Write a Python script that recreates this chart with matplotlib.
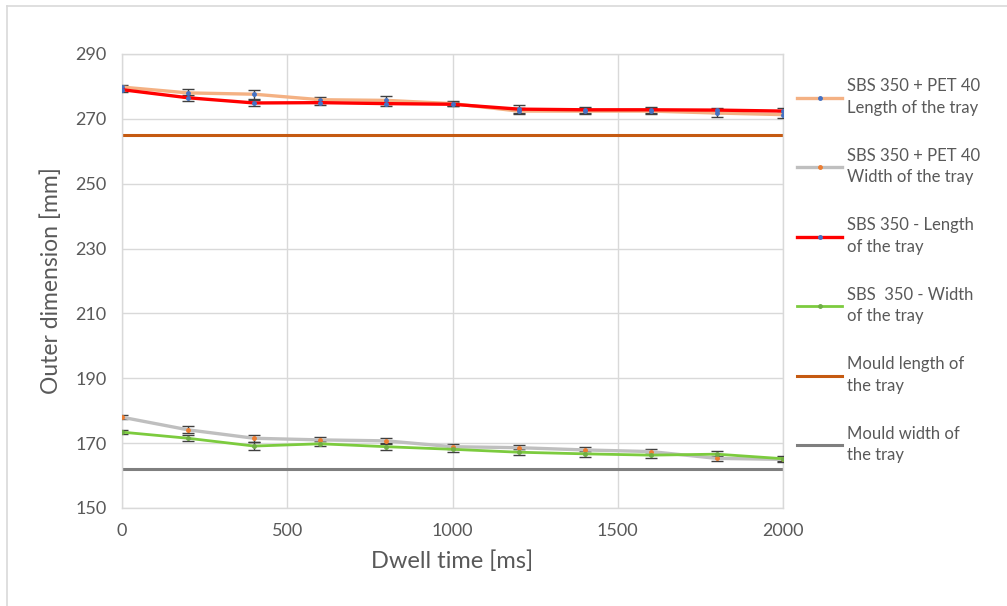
import matplotlib
matplotlib.use("Agg")
import matplotlib.pyplot as plt
from matplotlib.lines import Line2D

plt.rcParams["font.family"] = ["Lato", "DejaVu Sans"]

#### Data

dwell_time = [0, 200, 400, 600, 800, 1000, 1200, 1400, 1600, 1800, 2000]

pet_length = [279.8, 278.0, 277.6, 275.9, 275.7, 274.7, 272.4, 272.4, 272.4, 271.8, 271.3]
pet_length_err = [0.6, 1.2, 1.4, 0.9, 1.2, 0.8, 1.0, 0.8, 0.8, 1.3, 1.0]

pet_width = [178.0, 174.1, 171.5, 171.0, 170.7, 168.9, 168.6, 167.9, 167.4, 165.3, 165.0]
pet_width_err = [0.6, 1.1, 1.0, 1.0, 0.9, 0.8, 0.9, 1.0, 0.9, 0.8, 0.8]

sbs_length = [279.0, 276.5, 274.9, 275.0, 274.7, 274.5, 273.0, 272.8, 272.8, 272.7, 272.4]
sbs_length_err = [0.6, 1.0, 0.8, 0.8, 0.8, 0.6, 1.2, 0.9, 0.9, 0.8, 0.8]

sbs_width = [173.4, 171.5, 169.1, 169.8, 168.9, 168.1, 167.2, 166.7, 166.3, 166.6, 165.2]
sbs_width_err = [0.6, 0.9, 1.2, 0.8, 1.0, 0.8, 0.9, 1.0, 0.9, 0.9, 0.7]

mould_length = 265.0
mould_width = 162.0

labels = [
    "SBS 350 + PET 40\nLength of the tray",
    "SBS 350 + PET 40\nWidth of the tray",
    "SBS 350 - Length\nof the tray",
    "SBS  350 - Width\nof the tray",
    "Mould length of\nthe tray",
    "Mould width of\nthe tray",
]

text_grey = "#595959"

fig = plt.figure(figsize=(10.07, 6.06), dpi=100)
ax = fig.add_axes([122 / 1007, 98 / 606, 661 / 1007, 454 / 606])

# light frame of the chart object (top and left edges only visible)
fig.add_artist(Line2D([7 / 1007, 1.0], [1 - 6 / 606, 1 - 6 / 606], color="#D9D9D9", lw=1.2))
fig.add_artist(Line2D([7 / 1007, 7 / 1007], [0.0, 1 - 6 / 606], color="#D9D9D9", lw=1.2))

series = [
    (pet_length, pet_length_err, "#F4B183", "#4472C4", 2.4),
    (pet_width, pet_width_err, "#BFBFBF", "#ED7D31", 2.4),
    (sbs_length, sbs_length_err, "#FF0000", "#4472C4", 2.4),
    (sbs_width, sbs_width_err, "#7CCB3E", "#70AD47", 2.0),
]

handles = []
for (vals, errs, col, mcol, lw), lab in zip(series, labels):
    ax.errorbar(dwell_time, vals, yerr=errs, fmt="none", ecolor="#404040",
                elinewidth=1.0, capsize=4, capthick=1.0, zorder=3)
    line, = ax.plot(dwell_time, vals, color=col, lw=lw, marker="o", markersize=2.5,
                    markerfacecolor=mcol, markeredgecolor=mcol,
                    solid_joinstyle="round", zorder=4, label=lab)
    handles.append(line)

ax.hlines(mould_length, dwell_time[0], dwell_time[-1], color="#C55A11", lw=2.2, zorder=2)
ax.hlines(mould_width, dwell_time[0], dwell_time[-1], color="#7F7F7F", lw=2.2, zorder=2)
handles.append(Line2D([], [], color="#C55A11", lw=2.2, label=labels[4]))
handles.append(Line2D([], [], color="#7F7F7F", lw=2.2, label=labels[5]))

ax.set_xlim(0, 2000)
ax.set_ylim(150, 290)
ax.set_xticks([0, 500, 1000, 1500, 2000])
ax.set_yticks(range(150, 291, 20))
ax.grid(True, color="#D9D9D9", lw=1.0)
ax.set_axisbelow(True)
for sp in ax.spines.values():
    sp.set_color("#D9D9D9")
    sp.set_linewidth(1.0)
ax.tick_params(length=0, labelsize=13, labelcolor=text_grey, pad=11)

ax.set_xlabel("Dwell time [ms]", fontsize=17, color=text_grey, labelpad=8)
ax.set_ylabel("Outer dimension [mm]", fontsize=16.5, color=text_grey, labelpad=10)

leg = ax.legend(handles=handles, loc="upper left", bbox_to_anchor=(797 / 1007, 1 - 78 / 606),
                bbox_transform=fig.transFigure, frameon=False, fontsize=12,
                handlelength=2.7, handletextpad=0.3, labelspacing=1.9,
                borderpad=0, borderaxespad=0, numpoints=1)
for t in leg.get_texts():
    t.set_color(text_grey)
    t.set_linespacing(1.45)

fig.savefig("out.png", dpi=100)
